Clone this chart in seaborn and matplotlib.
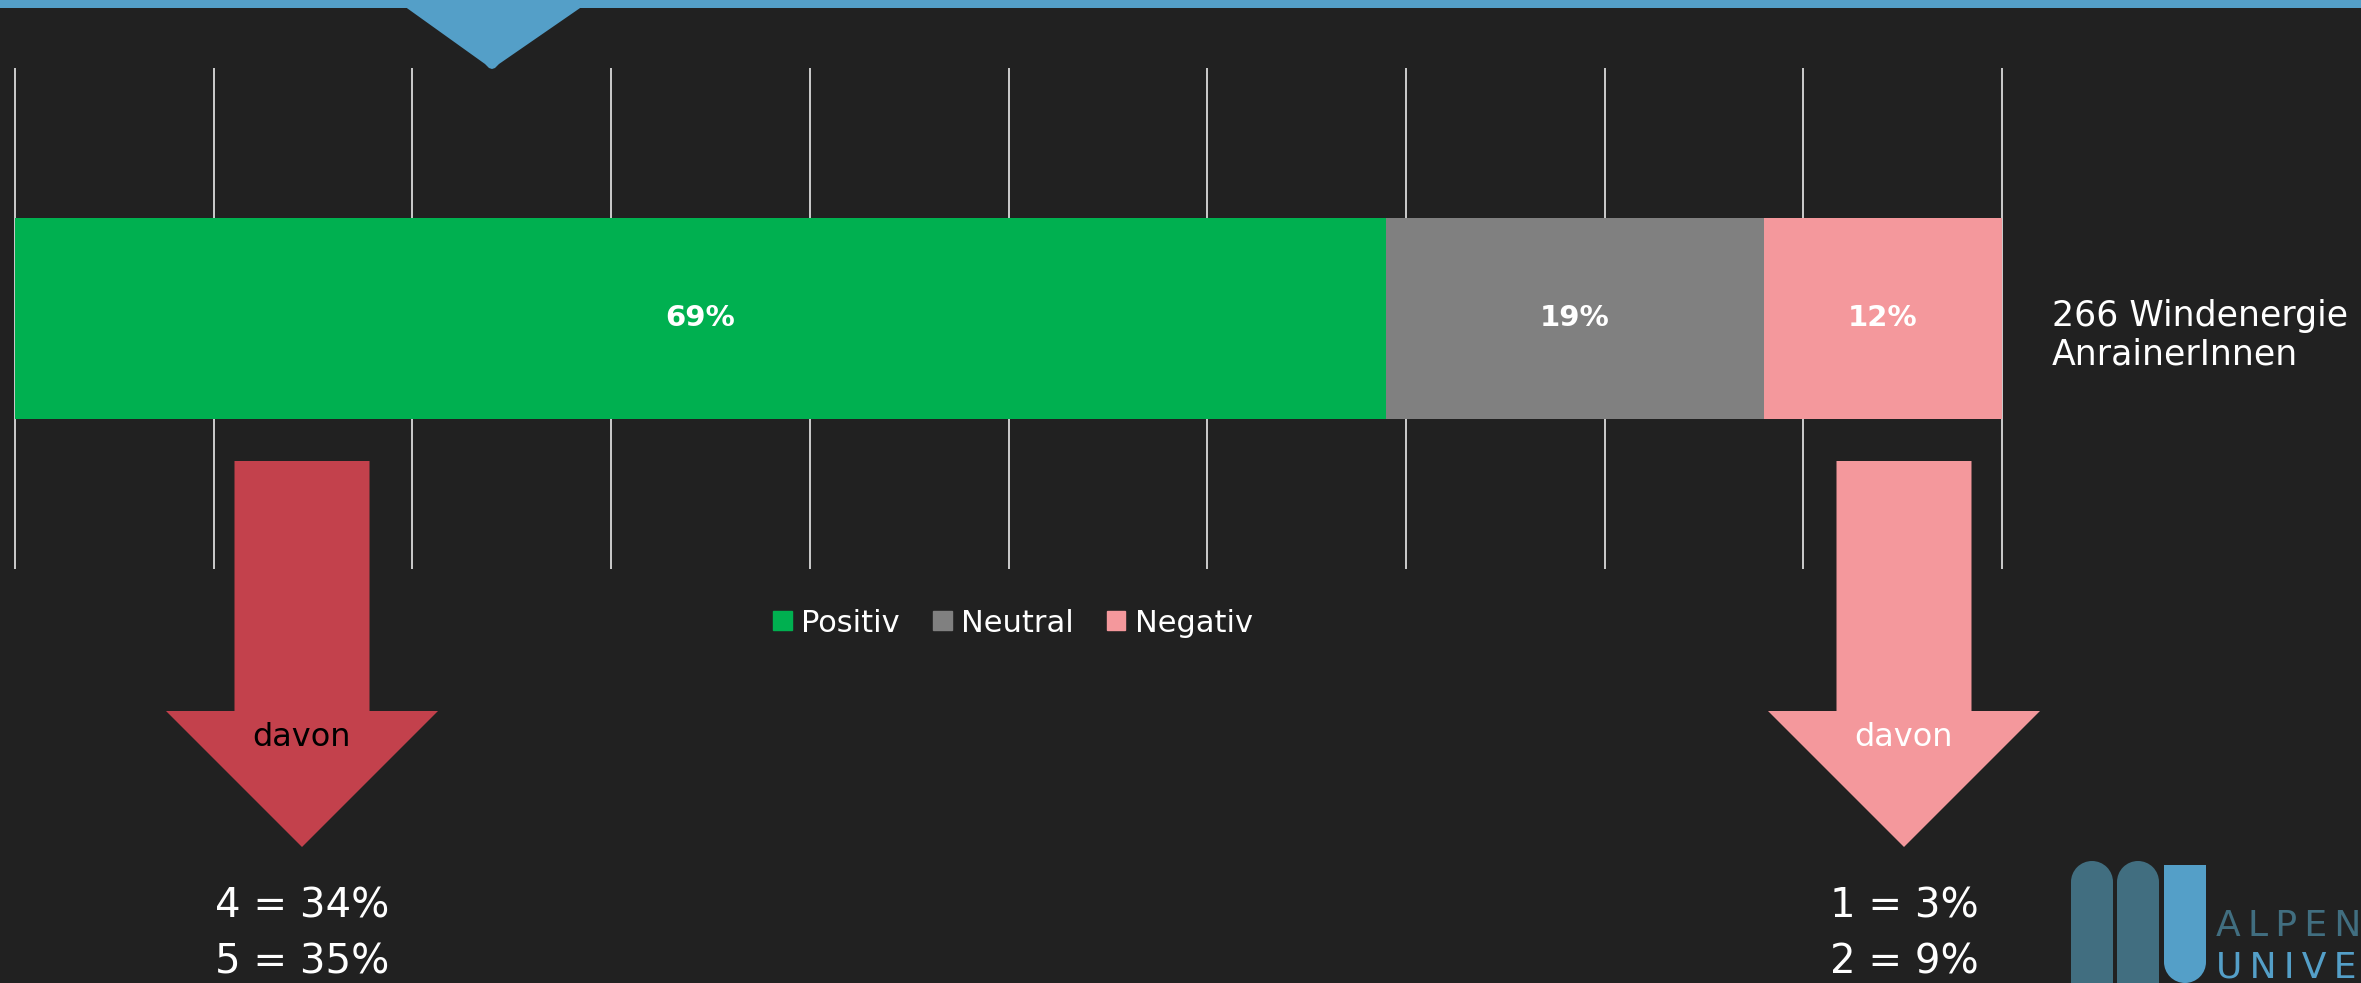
import numpy as np
import pandas as pd
import seaborn as sns
import matplotlib.pyplot as plt
from matplotlib.patches import Polygon, Rectangle, Circle

# data
segments = ["Positiv", "Neutral", "Negativ"]
shares = [69, 19, 12]
seg_colors = ["#00B050", "#808080", "#F4989C"]
group_label = "266 Windenergie\nAnrainerInnen"
pos_detail = ["4 = 34%", "5 = 35%"]
neg_detail = ["1 = 3%", "2 = 9%"]

bg = "#212121"
blue = "#549FC8"
teal = "#416E80"
dark_red = "#C3414C"

sns.set_theme(style="dark", rc={"axes.facecolor": bg, "figure.facecolor": bg,
                                "savefig.facecolor": bg})
plt.rcParams['font.family'] = ['DejaVu Sans']

W, H = 2361, 983
fig = plt.figure(figsize=(W / 100, H / 100), dpi=100)

df = pd.DataFrame({"segment": segments, "share": shares, "color": seg_colors})
df["cum"] = df["share"].cumsum()
df["start"] = df["cum"] - df["share"]

# stacked bar: draw cumulative totals from the longest down
ax = fig.add_axes([14 / W, 1 - 569 / H, 1989 / W, 501 / H])
for _, row in df.iloc[::-1].iterrows():
    sns.barplot(x=[row["cum"]], y=[""], color=row["color"], saturation=1,
                width=0.401, orient="h", ax=ax, zorder=3,
                edgecolor="none", linewidth=0)
for _, row in df.iterrows():
    ax.text(row["start"] + row["share"] / 2, 0, f"{row['share']}%",
            ha="center", va="center", color="white", fontsize=21,
            fontweight="bold", zorder=4)

ax.set_xlim(-0.05, 100.05)
ax.set_ylim(0.5, -0.5)
ax.set_xticks(np.arange(0, 101, 10))
ax.grid(axis="x", color="#d9d9d9", lw=1.3, zorder=0)
ax.grid(axis="y", visible=False)
ax.set_axisbelow(True)
ax.tick_params(length=0, labelbottom=False, labelleft=False)
ax.set_xlabel("")
ax.set_ylabel("")
for s in ax.spines.values():
    s.set_visible(False)

handles = [Rectangle((0, 0), 1, 1, color=c) for c in seg_colors]
fig.legend(handles, segments, loc="center", bbox_to_anchor=(1013 / W, 1 - 623 / H),
           ncol=3, frameon=False, fontsize=22, labelcolor="white",
           handlelength=0.6, handleheight=0.6, handletextpad=0.3,
           columnspacing=1.1)

# decoration layer in pixel coordinates
deco = fig.add_axes([0, 0, 1, 1])
deco.set_xlim(0, W)
deco.set_ylim(H, 0)
deco.axis("off")
deco.patch.set_alpha(0)

# top banner
deco.add_patch(Rectangle((0, 0), W, 8, color=blue, lw=0))
deco.add_patch(Polygon([(404, 6), (583, 6), (499, 64), (495, 68), (492, 69),
                        (489, 68), (485, 64)],
                       closed=True, color=blue, lw=0))

# group label
deco.text(2052, 335, group_label, ha="left", va="center", color="white",
          fontsize=25, linespacing=1.15)


def down_arrow(xc, color, text_color, lines):
    shaft = 67.5
    head = 136
    pts = [(xc - shaft, 461), (xc + shaft, 461), (xc + shaft, 711),
           (xc + head, 711), (xc, 847), (xc - head, 711), (xc - shaft, 711)]
    deco.add_patch(Polygon(pts, closed=True, color=color, lw=0))
    deco.text(xc, 738, "davon", ha="center", va="center", color=text_color,
              fontsize=23)
    for i, t in enumerate(lines):
        deco.text(xc, 906 + i * 56, t, ha="center", va="center",
                  color="white", fontsize=29)


down_arrow(302, dark_red, "black", pos_detail)
down_arrow(1904, seg_colors[2], "white", neg_detail)

# logo
for x0 in (2071, 2117):
    deco.add_patch(Rectangle((x0, 882), 42, 110, color=teal, lw=0))
    deco.add_patch(Circle((x0 + 21, 882), 21, color=teal, lw=0))
deco.add_patch(Rectangle((2164, 865), 42, 97, color=blue, lw=0))
deco.add_patch(Circle((2185, 962), 21, color=blue, lw=0))
deco.text(2216, 926, "A\u2009L\u2009P\u2009E\u2009N", ha="left", va="center",
          color=teal, fontsize=26)
deco.text(2216, 968, "U\u2009N\u2009I\u2009V\u2009E\u2009R\u2009S\u2009I\u2009T\u2009Ä\u2009T",
          ha="left", va="center", color=blue, fontsize=26)

fig.savefig("out.png", dpi=100, facecolor=bg)
